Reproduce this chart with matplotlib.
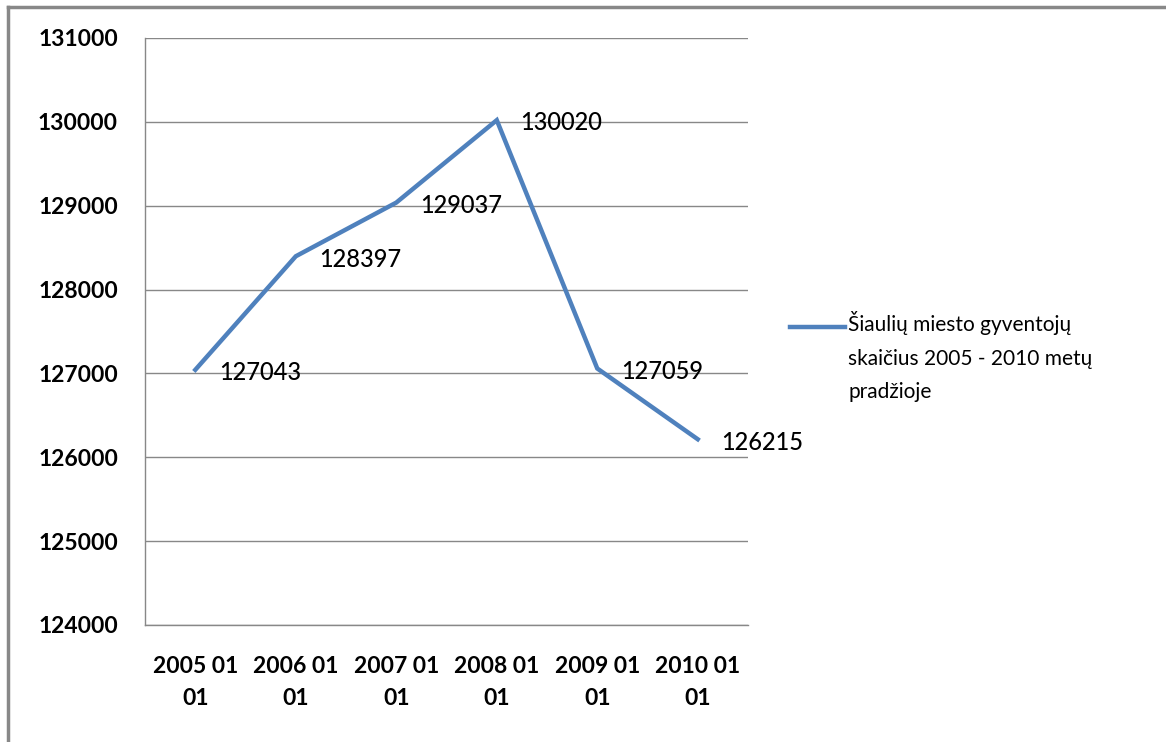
import matplotlib.pyplot as plt
from matplotlib.lines import Line2D

# duomenys
metai = ['2005 01\n01', '2006 01\n01', '2007 01\n01', '2008 01\n01', '2009 01\n01', '2010 01\n01']
gyventojai = [127043, 128397, 129037, 130020, 127059, 126215]
y_ticks = [124000, 125000, 126000, 127000, 128000, 129000, 130000, 131000]
legenda = 'Šiaulių miesto gyventojų\nskaičius 2005 - 2010 metų\npradžioje'

plt.rcParams['font.family'] = ['Lato', 'DejaVu Sans']

fig = plt.figure(figsize=(11.66, 7.42), dpi=100)
ax = fig.add_axes([0.1244, 0.1577, 0.5171, 0.7911])

x = [i + 0.5 for i in range(len(metai))]
ax.plot(x, gyventojai, color='#4F81BD', linewidth=3.2, solid_joinstyle='miter')

for xi, v in zip(x, gyventojai):
    ax.annotate(str(v), (xi, v), xytext=(17, -2), textcoords='offset points',
                ha='left', va='center', fontsize=17, fontweight='medium')

ax.set_xlim(0, 6)
ax.set_ylim(124000, 131000)
ax.set_yticks(y_ticks)
ax.set_yticklabels([str(t) for t in y_ticks], fontsize=16.5, fontweight='bold')
ax.set_xticks(x)
ax.set_xticklabels(metai, fontsize=16.5, fontweight='bold', linespacing=1.65)
ax.tick_params(length=0)
ax.tick_params(axis='y', pad=19.5)
ax.tick_params(axis='x', pad=22)

ax.grid(axis='y', color='#888888', linewidth=1)
ax.set_axisbelow(True)
for s in ['top', 'right']:
    ax.spines[s].set_visible(False)
for s in ['left', 'bottom']:
    ax.spines[s].set_color('#888888')
    ax.spines[s].set_linewidth(1)

# legenda
fig.lines.append(Line2D([790 / 1166, 845 / 1166], [1 - 327 / 742] * 2,
                        transform=fig.transFigure, color='#4F81BD', linewidth=3.2))
fig.text(848 / 1166, 1 - 311 / 742, legenda, ha='left', va='top', fontsize=15,
         linespacing=1.85)

# rėmelis
fig.lines.append(Line2D([8 / 1166, 8 / 1166], [0, 1 - 7 / 742],
                        transform=fig.transFigure, color='#888888', linewidth=2.5))
fig.lines.append(Line2D([8 / 1166, 1], [1 - 7 / 742] * 2,
                        transform=fig.transFigure, color='#888888', linewidth=2.5))

plt.savefig('out.png', dpi=100)
